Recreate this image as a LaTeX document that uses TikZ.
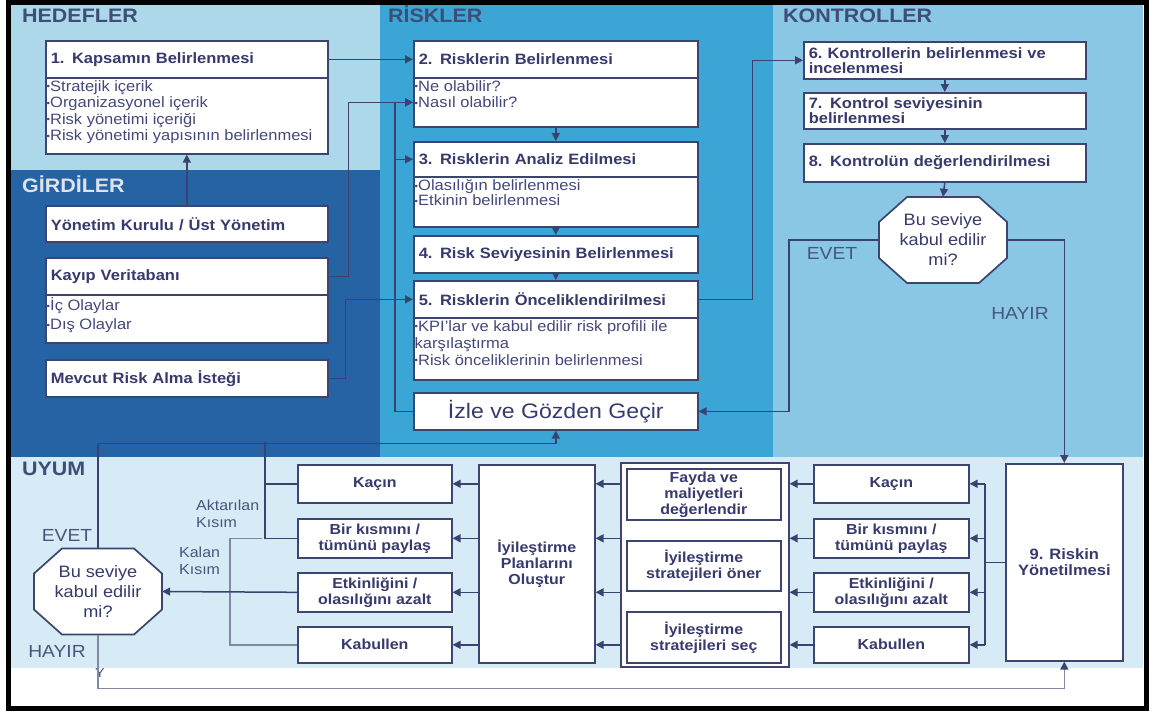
\documentclass[tikz,border=0pt]{standalone}
\usepackage{fontspec}
\setmainfont{Liberation Sans}[FakeStretch=1.1]
\usepackage{graphicx}
\usetikzlibrary{arrows.meta,calc}

\definecolor{hedef}{RGB}{172,216,234}
\definecolor{girdi}{RGB}{37,99,165}
\definecolor{risk}{RGB}{59,166,214}
\definecolor{kontrol}{RGB}{137,199,228}
\definecolor{uyum}{RGB}{214,235,245}
\definecolor{txtc}{RGB}{55,58,108}
\definecolor{bodyc}{RGB}{68,72,124}
\definecolor{bordc}{RGB}{60,68,112}
\definecolor{linec}{RGB}{58,66,112}
\definecolor{lineg}{RGB}{128,138,162}
\definecolor{ttlc}{RGB}{62,78,118}
\definecolor{ttlg}{RGB}{222,226,236}
\definecolor{lblc}{RGB}{72,86,124}

\newcommand\fsz[2]{\fontsize{#1}{#2}\selectfont}
\newcommand\blt{\raisebox{1.2pt}{\fsz{9}{9}\textbullet}}

% octagon outline behind a decision node
\newcommand\octo[2]{\filldraw[fill=white,draw=bordc,line width=1.7pt]
  ({#1-36},{#2-43}) -- ({#1+36},{#2-43}) -- ({#1+64},{#2-18}) -- ({#1+64},{#2+18})
  -- ({#1+36},{#2+43}) -- ({#1-36},{#2+43}) -- ({#1-64},{#2+18}) -- ({#1-64},{#2-18}) -- cycle;}

\tikzset{
  box/.style={draw=bordc, line width=1.6pt, fill=white, rectangle, inner sep=0pt,
    anchor=north west, text=txtc},
  hd/.style 2 args={box, text width=#1pt, minimum height=#2pt, inner xsep=5pt,
    align=left, font=\bfseries\fsz{15}{15}},
  bd/.style 2 args={box, minimum width=#1pt, minimum height=#2pt},
  bt/.style={anchor=north west, inner xsep=1.5pt, inner ysep=3pt, align=left,
    text=bodyc, font=\fsz{15}{16.5}},
  cb/.style 2 args={box, minimum width=#1pt, minimum height=#2pt, align=center,
    font=\bfseries\fsz{14.5}{16}},
  octt/.style={minimum width=128pt, minimum height=86pt, inner sep=0pt, align=center,
    text=txtc, font=\fsz{16.5}{20}},
  ttl/.style={anchor=base west, inner sep=0pt, font=\bfseries\fsz{19.5}{19.5}},
  lbl/.style={inner sep=0pt, text=lblc, font=\fsz{17.5}{17.5}},
  sl/.style={inner sep=0pt, align=left, text=lblc, font=\fsz{14.5}{17}},
  ln/.style={draw=linec, line width=1.5pt},
  lng/.style={draw=lineg, line width=1.5pt},
  arr/.style={ln, -{Triangle[length=8pt,width=8pt]}},
  arrg/.style={lng, -{Triangle[length=8pt,width=8pt,color=linec]}},
}

\begin{document}
\begin{tikzpicture}[x=1pt,y=-1pt]
\useasboundingbox (0,0) rectangle (1155,715);
\fill[white] (0,0) rectangle (1155,715);

% zone backgrounds
\fill[hedef] (10,5) rectangle (380,170);
\fill[girdi] (10,170) rectangle (380,457);
\fill[risk] (380,5) rectangle (773,457);
\fill[kontrol] (773,5) rectangle (1143,457);
\fill[uyum] (10,457) rectangle (1143,668);
\draw[black, line width=5pt] (8,2.5) rectangle (1146,708.5);

% zone titles
\node[ttl, text=ttlc] (tHed) at (22,22) {HEDEFLER};
\node[ttl, text=ttlc] (tRis) at (388,22) {RİSKLER};
\node[ttl, text=ttlc] (tKon) at (783,22) {KONTROLLER};
\node[ttl, text=ttlg] (tGir) at (22,192) {GİRDİLER};
\node[ttl, text=ttlc] (tUyu) at (22,475) {UYUM};

% HEDEFLER / GIRDILER
\node[hd={272}{37}] (b1) at (45,40) {1. Kapsamın Belirlenmesi};
\node[bd={282}{76}] (b1b) at (45,77) {};
\node[bt] (b1t) at (b1b.north west) {\blt Stratejik içerik\\\blt Organizasyonel içerik\\\blt Risk yönetimi içeriği\\\blt Risk yönetimi yapısının belirlenmesi};

\node[hd={272}{36}] (ym) at (45,205) {Yönetim Kurulu / Üst Yönetim};
\node[hd={272}{37}] (kv) at (45,257) {Kayıp Veritabanı};
\node[bd={282}{48}] (kvb) at (45,294) {};
\node[bt, font=\fsz{15}{19}] (kvt) at (kvb.north west) {\blt İç Olaylar\\\blt Dış Olaylar};
\node[hd={272}{37}] (mr) at (45,359) {Mevcut Risk Alma İsteği};

% RISKLER
\node[hd={274}{37}] (b2) at (413,40) {2. Risklerin Belirlenmesi};
\node[bd={284}{49}] (b2b) at (413,77) {};
\node[bt] (b2t) at (b2b.north west) {\blt Ne olabilir?\\\blt Nasıl olabilir?};
\node[hd={274}{35}] (b3) at (413,141) {3. Risklerin Analiz Edilmesi};
\node[bd={284}{50}] (b3b) at (413,176) {};
\node[bt, font=\fsz{15}{15.5}] (b3t) at (b3b.north west) {\blt Olasılığın belirlenmesi\\\blt Etkinin belirlenmesi};
\node[hd={274}{37}] (b4) at (413,235) {4. Risk Seviyesinin Belirlenmesi};
\node[hd={274}{37}] (b5) at (413,280) {5. Risklerin Önceliklendirilmesi};
\node[bd={284}{62}] (b5b) at (413,317) {};
\node[bt, font=\fsz{15}{17}] (b5t) at (b5b.north west) {\blt KPI’lar ve kabul edilir risk profili ile\\karşılaştırma\\\blt Risk önceliklerinin belirlenmesi};
\node[box, minimum width=284pt, minimum height=37pt, font=\fsz{21}{21}] (iz) at (413,392) {İzle ve Gözden Geçir};

% KONTROLLER
\node[hd={272}{37}] (b6) at (803,41) {6.\ Kontrollerin belirlenmesi ve\\incelenmesi};
\node[hd={272}{36}] (b7) at (803,92) {7. Kontrol seviyesinin\\belirlenmesi};
\node[hd={272}{38}] (b8) at (803,143) {8. Kontrolün değerlendirilmesi};
\octo{943}{240}
\node[octt] (o1) at (943,240) {Bu seviye\\kabul edilir\\mi?};

% UYUM
\node[cb={154}{38}] (lk1) at (297,464) {Kaçın};
\node[cb={154}{39}] (lk2) at (297,518) {Bir kısmını /\\tümünü paylaş};
\node[cb={154}{39}] (lk3) at (297,572) {Etkinliğini /\\olasılığını azalt};
\node[cb={154}{36}] (lk4) at (297,626) {Kabullen};
\node[cb={116}{198}] (pl) at (478,464) {İyileştirme\\Planlarını\\Oluştur};

\node[box, minimum width=168pt, minimum height=204pt] (gr) at (620,462) {};
\node[cb={154}{51}] (g1) at (626,468) {Fayda ve\\maliyetleri\\değerlendir};
\node[cb={154}{50}] (g2) at (626,540) {İyileştirme\\stratejileri öner};
\node[cb={154}{51}] (g3) at (626,611) {İyileştirme\\stratejileri seç};

\node[cb={155}{38}] (rk1) at (813,464) {Kaçın};
\node[cb={155}{39}] (rk2) at (813,518) {Bir kısmını /\\tümünü paylaş};
\node[cb={155}{39}] (rk3) at (813,572) {Etkinliğini /\\olasılığını azalt};
\node[cb={155}{36}] (rk4) at (813,626) {Kabullen};
\node[cb={117}{197}, font=\bfseries\fsz{15}{16}] (r9) at (1005,463) {9. Riskin\\Yönetilmesi};

\octo{98}{591.5}
\node[octt] (o2) at (98,591.5) {Bu seviye\\kabul edilir\\mi?};

% labels
\node[lbl] (ev1) at (832,253) {EVET};
\node[lbl] (hy1) at (1020,313) {HAYIR};
\node[lbl] (ev2) at (67,535) {EVET};
\node[lbl] (hy2) at (57,651) {HAYIR};
\node[sl, anchor=west] (akt) at (196,513.5) {Aktarılan\\Kısım};
\node[sl, anchor=west] (kal) at (179,561) {Kalan\\Kısım};
\node[inner sep=0pt, text=lblc, font=\fsz{13}{13}] (yy) at (100,673) {Y};

% connectors: inputs and goals
\draw[arr] (ym.north) -- (b1b.south);
\draw[arr] (b1.east) -- (b2.west);
\draw[arr] (kv.east) -- ++(20,0) |- (b2b.west);
\draw[arr] (mr.east) -- ++(17,0) |- (b5.west);
\draw[arr] (iz.west) -- ++(-18,0) |- (b2b.west);
\draw[arr] (iz.west) ++(-18,0) |- (b3.west);

% risk chain
\draw[arr] (b2b.south) -- (b3.north);
\draw[arr] (b3b.south) -- (b4.north);
\draw[arr] (b4.south) -- (b5.north);
\draw[arr] (b5.east) -- ++(54,0) |- (b6.west);

% control chain
\draw[arr] (b6.south) -- (b7.north);
\draw[arr] (b7.south) -- (b8.north);
\draw[arr] (b8.south) -- (o1.north);
\draw[arr] (o1.west) -- ++(-90,0) |- (iz.east);
\draw[arr] (o1.east) -| (r9.north);

% compliance: treatment options
\draw[ln] (r9.west) -- ++(-20,0) coordinate (bus);
\draw[ln] (bus |- rk1.east) -- (bus |- rk4.east);
\foreach \k in {1,2,3,4}{
  \draw[arr] (bus |- rk\k.east) -- (rk\k.east);
  \draw[arr] (rk\k.west) -- (gr.east |- rk\k.west);
  \draw[arr] (gr.west |- rk\k.west) -- (pl.east |- rk\k.west);
  \draw[arr] (pl.west |- lk\k.east) -- (lk\k.east);
}

% transferred part back to monitoring, remaining part to decision
\draw[arr] (o2.north) |- ([yshift=-13pt]iz.south) -- (iz.south);
\coordinate (ak) at (265,442);
\draw[ln] (lk1.west) -| (ak);
\draw[ln] (ak) |- (lk2.west);
\draw[lng] (lk2.west) ++(-35,0) -- ++(-32,0) |- (lk4.west);
\draw[arr] (lk3.west) -- (o2.east);
\draw[arrg] (o2.south) -- ++(0,54) -| (r9.south);
\end{tikzpicture}
\end{document}
